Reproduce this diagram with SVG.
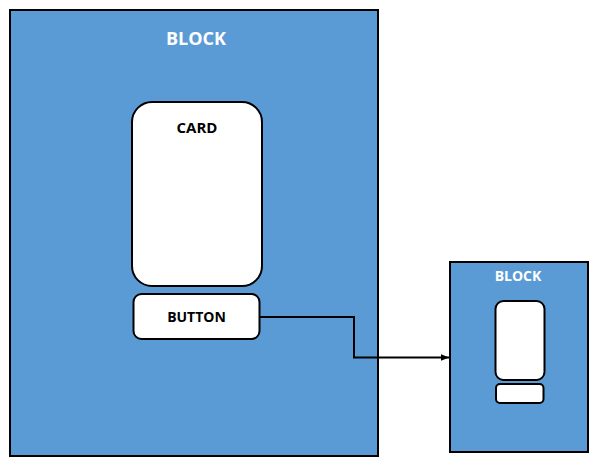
<svg xmlns="http://www.w3.org/2000/svg" width="600" height="466" viewBox="0 0 600 466">
<style>
.blk{fill:#5B9BD5;stroke:#000;stroke-width:2}
.wht{fill:#fff;stroke:#000;stroke-width:2}
.t{font-family:"Open Sans","Liberation Sans",sans-serif;font-weight:bold;text-anchor:middle}
.tw{fill:#fff}
.tb{fill:#000}
.conn{fill:none;stroke:#000;stroke-width:2}
</style>
<defs>
<marker id="arr" viewBox="0 0 10 10" refX="10" refY="5" markerWidth="4" markerHeight="4" orient="auto" markerUnits="strokeWidth">
<path d="M0,1 L10,5 L0,9 z" fill="#000"/>
</marker>
</defs>
<g id="block-large">
<rect class="blk" x="10" y="10" width="368" height="446"/>
<text class="t tw" x="196" y="45" font-size="18">BLOCK</text>
</g>
<g id="card">
<rect class="wht" x="132" y="102" width="130" height="184" rx="20" ry="20"/>
<text class="t tb" x="197" y="133" font-size="15">CARD</text>
</g>
<g id="button">
<rect class="wht" x="133.5" y="294" width="126" height="45" rx="8" ry="8"/>
<text class="t tb" x="196.5" y="322" font-size="14">BUTTON</text>
</g>
<g id="block-small">
<rect class="blk" x="450" y="262" width="138" height="190"/>
<text class="t tw" x="518" y="281" font-size="14">BLOCK</text>
</g>
<g id="card-small">
<rect class="wht" x="495.5" y="301" width="49" height="79" rx="8" ry="8"/>
</g>
<g id="button-small">
<rect class="wht" x="496" y="384" width="47.5" height="19" rx="4" ry="4"/>
</g>
<g id="connectors">
<path class="conn" d="M259.5,317 H354 V357.5 H449" marker-end="url(#arr)"/>
</g>
</svg>
